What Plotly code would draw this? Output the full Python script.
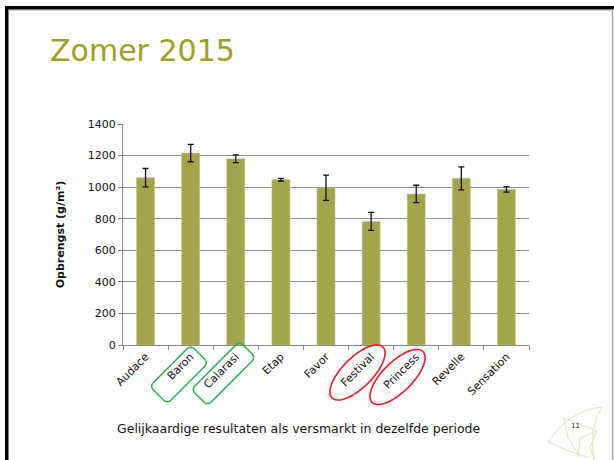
import math
import plotly.graph_objects as go

categories = ["Audace", "Baron", "Calarasi", "Etap", "Favor", "Festival", "Princess", "Revelle", "Sensation"]
values = [1060, 1216, 1180, 1047, 996, 783, 957, 1056, 986]
errors = [58, 55, 25, 8, 80, 57, 55, 73, 17]
y_ticks = [0, 200, 400, 600, 800, 1000, 1200, 1400]

W, H = 614, 460
L, R, T, B = 123, 85, 124, 115
PW, PH = W - L - R, H - T - B


def px(x):
    return (x - L) / PW


def py(y):
    return (H - B - y) / PH


def path_from_pts(pts, close=True):
    s = "M " + " L ".join(f"{px(x):.5f},{py(y):.5f}" for x, y in pts)
    return s + (" Z" if close else "")


def rot_pts(cx, cy, pts, ang):
    c, s = math.cos(ang), math.sin(ang)
    return [(cx + x * c - y * s, cy + x * s + y * c) for x, y in pts]


def rounded_rect(cx, cy, w, h, r, ang):
    pts = []
    corners = [(w / 2 - r, h / 2 - r, 0), (-w / 2 + r, h / 2 - r, 90),
               (-w / 2 + r, -h / 2 + r, 180), (w / 2 - r, -h / 2 + r, 270)]
    for ox, oy, a0 in corners:
        for k in range(7):
            a = math.radians(a0 + 15 * k)
            pts.append((ox + r * math.cos(a), oy + r * math.sin(a)))
    return path_from_pts(rot_pts(cx, cy, pts, ang))


def ellipse(cx, cy, a, b, ang):
    pts = [(a * math.cos(t * math.pi / 30), b * math.sin(t * math.pi / 30)) for t in range(60)]
    return path_from_pts(rot_pts(cx, cy, pts, ang))


fig = go.Figure()
fig.add_trace(go.Bar(
    x=categories, y=values,
    marker=dict(color="#A2A64A", line=dict(color="#C8CB8A", width=0.5)),
    error_y=dict(type="data", array=errors, visible=True, color="#111111", thickness=1.3, width=3),
    width=0.4,
))

shapes = []
ang = math.radians(-45)
green = "#2DB04F"
red = "#EE1C24"
shapes.append(dict(type="path", xref="paper", yref="paper", path=rounded_rect(179, 374.5, 58, 25, 5, ang),
                   line=dict(color=green, width=1.5)))
shapes.append(dict(type="path", xref="paper", yref="paper", path=rounded_rect(223.5, 373.5, 68, 23, 5, ang),
                   line=dict(color=green, width=1.5)))
shapes.append(dict(type="path", xref="paper", yref="paper", path=ellipse(357.5, 372.5, 36, 15, ang),
                   line=dict(color=red, width=1.6)))
shapes.append(dict(type="path", xref="paper", yref="paper", path=ellipse(397.5, 377, 36, 15, ang),
                   line=dict(color=red, width=1.6)))

# slide borders
shapes.append(dict(type="rect", xref="paper", yref="paper", x0=px(5), x1=px(8.5), y0=py(470), y1=py(6),
                   fillcolor="black", line=dict(width=0), layer="above"))
shapes.append(dict(type="rect", xref="paper", yref="paper", x0=px(5), x1=px(620), y0=py(9.5), y1=py(6),
                   fillcolor="black", line=dict(width=0), layer="above"))
shapes.append(dict(type="line", xref="paper", yref="paper", x0=px(8.5), x1=px(612), y0=py(10.5), y1=py(10.5),
                   line=dict(color="#D0D0D0", width=1)))
shapes.append(dict(type="line", xref="paper", yref="paper", x0=px(612.5), x1=px(612.5), y0=py(10), y1=py(470),
                   line=dict(color="#A8A8A8", width=1.5)))

# leaf decoration
leaf_col = "#E4E2C6"
shapes.append(dict(type="path", xref="paper", yref="paper",
                   path="M {0},{1} Q {2},{3} {4},{5} Q {6},{7} {8},{9}".format(
                       px(548), py(442), px(570), py(410), px(602), py(407),
                       px(588), py(430), px(594), py(460)),
                   line=dict(color=leaf_col, width=1)))
shapes.append(dict(type="path", xref="paper", yref="paper",
                   path="M {0},{1} Q {2},{3} {4},{5}".format(
                       px(548), py(442), px(568), py(452), px(590), py(458)),
                   line=dict(color=leaf_col, width=1)))
shapes.append(dict(type="path", xref="paper", yref="paper",
                   path=path_from_pts([(564, 418), (568, 438), (580, 457)], close=False),
                   line=dict(color=leaf_col, width=1)))
shapes.append(dict(type="path", xref="paper", yref="paper",
                   path=path_from_pts([(564, 418), (597, 431), (580, 438), (578, 457)], close=False),
                   line=dict(color=leaf_col, width=1)))
shapes.append(dict(type="path", xref="paper", yref="paper",
                   path=path_from_pts([(597, 431), (590, 447), (594, 460)], close=False),
                   line=dict(color=leaf_col, width=1)))

annotations = [
    dict(text="Zomer 2015", xref="paper", yref="paper", x=px(48), y=py(50), xanchor="left", yanchor="middle",
         showarrow=False, font=dict(family="DejaVu Sans", size=30, color="#9A9F27")),
    dict(text="Gelijkaardige resultaten als versmarkt in dezelfde periode", xref="paper", yref="paper",
         x=px(115), y=py(428), xanchor="left", yanchor="middle", showarrow=False,
         font=dict(family="DejaVu Sans", size=12.5, color="#111111")),
    dict(text="11", xref="paper", yref="paper", x=px(575), y=py(426), xanchor="center", yanchor="middle",
         showarrow=False, font=dict(family="DejaVu Sans", size=7, color="#222222")),
]

fig.update_layout(
    width=W, height=H,
    margin=dict(l=L, r=R, t=T, b=B, autoexpand=False),
    paper_bgcolor="white", plot_bgcolor="white",
    showlegend=False,
    shapes=shapes, annotations=annotations,
    font=dict(family="DejaVu Sans", size=11, color="#111111"),
    xaxis=dict(
        tickangle=-45, ticks="outside", tickson="boundaries", ticklen=4, tickcolor="#888888",
        showline=True, linecolor="#888888", linewidth=1, showgrid=False,
        tickfont=dict(family="DejaVu Sans", size=11, color="#111111"),
    ),
    yaxis=dict(
        range=[0, 1400], tickvals=y_ticks, ticks="outside", ticklen=4, tickcolor="#888888",
        showline=True, linecolor="#888888", linewidth=1,
        showgrid=True, gridcolor="#8E8E8E", gridwidth=1,
        tickfont=dict(family="DejaVu Sans", size=11, color="#111111"),
        title=dict(text="<b>Opbrengst (g/m²)</b>", font=dict(family="DejaVu Sans", size=11, color="#111111"),
                   standoff=20),
        zeroline=False,
    ),
)

fig.write_html("out.html", config={"displayModeBar": False},
               post_script="document.body.style.margin='0';document.body.style.overflow='hidden';")
